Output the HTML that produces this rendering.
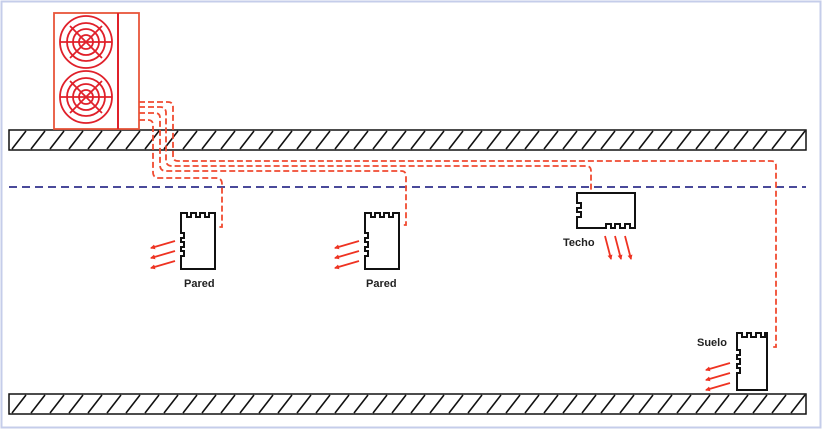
<!DOCTYPE html>
<html><head><style>body{margin:0;background:#fff}svg{display:block}</style></head><body>
<svg width="823" height="430" viewBox="0 0 823 430" xmlns="http://www.w3.org/2000/svg" font-family="Liberation Sans, sans-serif">
<defs>
<pattern id="h" x="9" y="130" width="19" height="20" patternUnits="userSpaceOnUse"><line x1="3" y1="19" x2="17" y2="1" stroke="#111" stroke-width="1.6"/></pattern>
<pattern id="h2" x="9" y="394" width="19" height="20" patternUnits="userSpaceOnUse"><line x1="3" y1="19" x2="17" y2="1" stroke="#111" stroke-width="1.6"/></pattern>
<marker id="a" markerWidth="5" markerHeight="5" refX="4" refY="2.5" orient="auto" markerUnits="userSpaceOnUse"><path d="M0,0L5,2.5L0,5z" fill="#e32"/></marker>
<g id="fan" fill="none" stroke="#e0202a" stroke-width="1.8"><circle r="26"/><circle r="19"/><circle r="13"/><circle r="7"/><line x1="-26" y1="0" x2="26" y2="0"/><line x1="-16" y1="-16" x2="16" y2="16"/><line x1="16" y1="-16" x2="-16" y2="16"/></g>
</defs>
<rect x="1.5" y="1.5" width="819" height="426" fill="#fff" stroke="#c5cdea" stroke-width="2"/>
<rect x="9" y="130" width="797" height="20" fill="url(#h)" stroke="#111" stroke-width="1.5"/>
<rect x="9" y="394" width="797" height="20" fill="url(#h2)" stroke="#111" stroke-width="1.5"/>
<line x1="9" y1="187" x2="806" y2="187" stroke="#4a4a9a" stroke-width="2" stroke-dasharray="8,5"/>
<rect x="54" y="13" width="85" height="116" fill="#fff" stroke="#e8553a" stroke-width="1.8"/>
<line x1="118" y1="13" x2="118" y2="129" stroke="#e0202a" stroke-width="2"/>
<use href="#fan" x="86" y="42"/><use href="#fan" x="86" y="97"/>
<g fill="none" stroke="#f04a30" stroke-width="1.8" stroke-dasharray="6,3">
<path d="M139,102H168Q173,102 173,107V156Q173,161 178,161H771Q776,161 776,166V347H771"/>
<path d="M139,107H160Q166,107 166,113V160Q166,166 172,166H586Q591,166 591,171V193"/>
<path d="M139,113H155Q160,113 160,118V165Q160,171 166,171H401Q406,171 406,176V225H402"/>
<path d="M139,120H148Q153,120 153,125V172Q153,178 159,178H216Q222,178 222,184V227H218"/>
</g>
<g fill="#fff" stroke="#111" stroke-width="2">
<path d="M181,269V256h3v-5h-3v-4h3v-5h-3v-4h3v-5h-3V213h6v4h4v-4h5v4h4v-4h5v4h4v-4h6v56z"/>
<path d="M365,269V256h3v-5h-3v-4h3v-5h-3v-4h3v-5h-3V213h6v4h4v-4h5v4h4v-4h5v4h4v-4h6v56z"/>
<path d="M577,193H635V228H630v-4h-5v4h-5v-4h-5v4h-4v-4h-5v4H577V217h4v-5h-4v-4h4v-5h-4z"/>
<path d="M737,390V373h3v-5h-3v-4h3v-5h-3v-4h3v-5h-3V333h5v4h5v-4h4v4h5v-4h5v4h4v-4h2v57z"/>
</g>
<g stroke="#e32" stroke-width="1.8" marker-end="url(#a)">
<line x1="175" y1="241" x2="151" y2="248"/><line x1="175" y1="251" x2="151" y2="258"/><line x1="175" y1="261" x2="151" y2="268"/>
<line x1="359" y1="241" x2="335" y2="248"/><line x1="359" y1="251" x2="335" y2="258"/><line x1="359" y1="261" x2="335" y2="268"/>
<line x1="730" y1="363" x2="706" y2="370"/><line x1="730" y1="373" x2="706" y2="380"/><line x1="730" y1="383" x2="706" y2="390"/>
<line x1="605" y1="236" x2="611" y2="259"/><line x1="615" y1="236" x2="621" y2="259"/><line x1="625" y1="236" x2="631" y2="259"/>
</g>
<g font-size="11" font-weight="bold" fill="#222">
<text x="184" y="287">Pared</text><text x="366" y="287">Pared</text>
<text x="563" y="246">Techo</text><text x="697" y="346">Suelo</text>
</g>
</svg>
</body></html>
